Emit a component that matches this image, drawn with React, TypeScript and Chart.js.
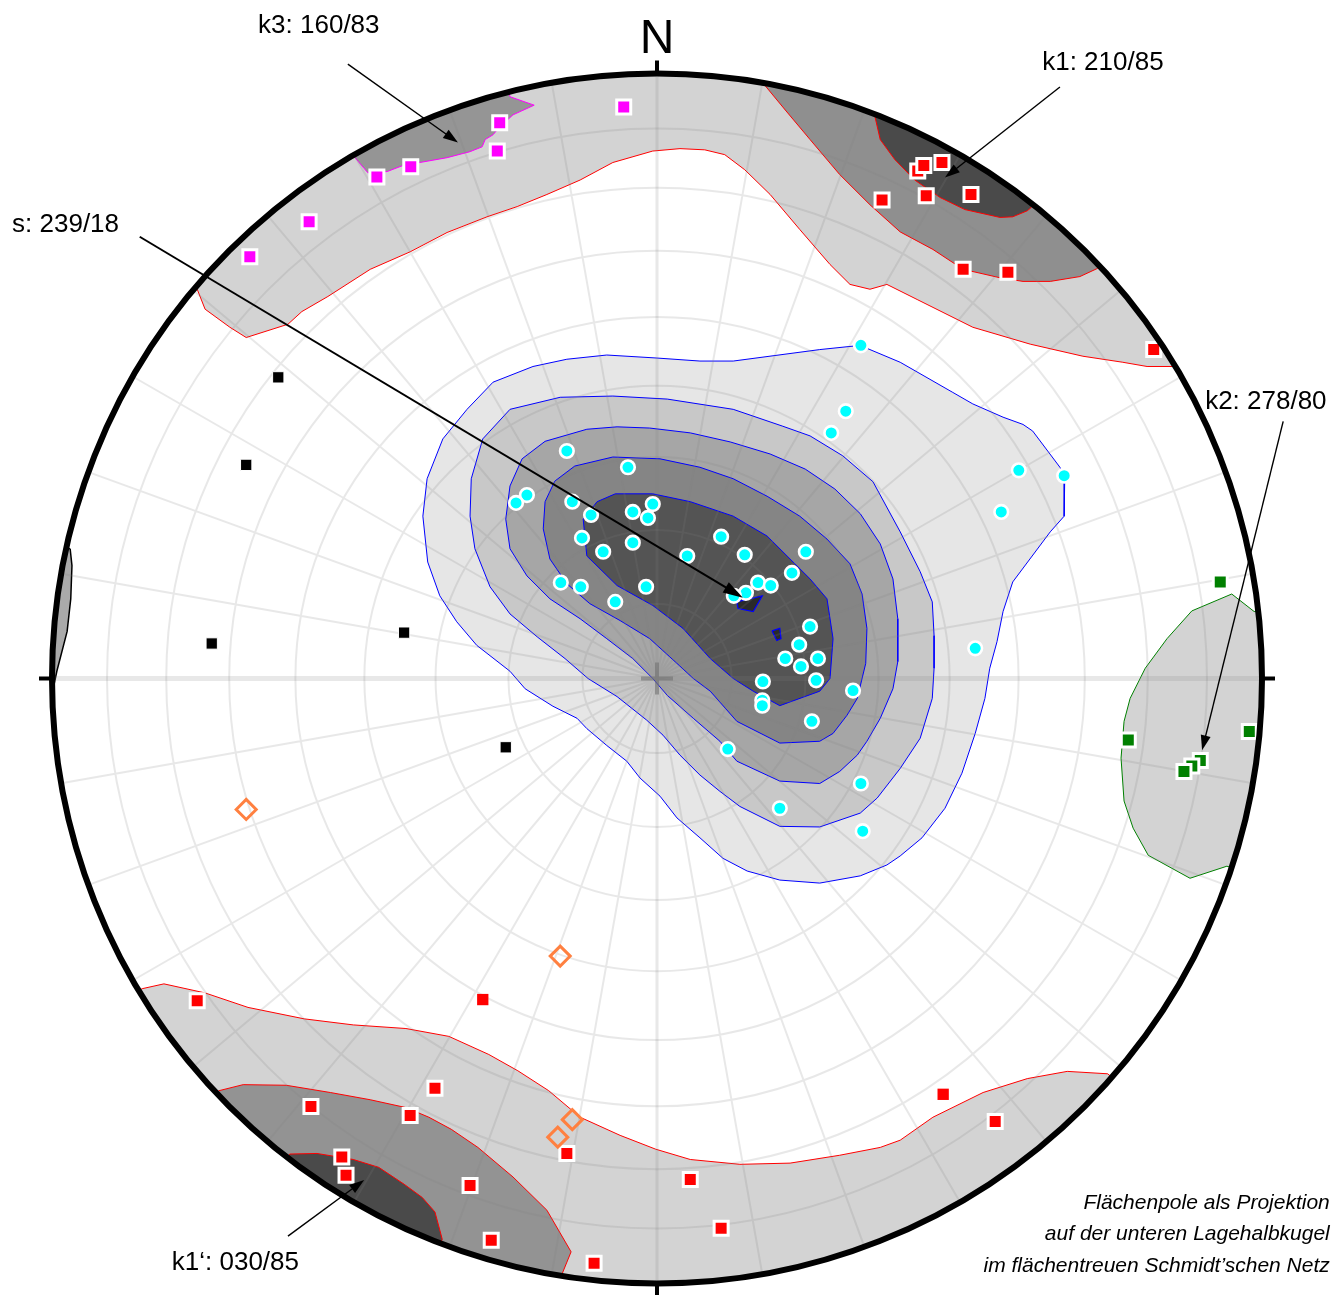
import React, { useEffect, useRef } from 'react';
import { Chart, registerables } from 'chart.js';

type P = [number, number];

// ---------------- DATA (projection plane of the Schmidt net, unit circle: x = east, y = north) ----------------

const cyanPoles: P[] = [
  [0.337, 0.552], [0.312, 0.443], [0.288, 0.407], [0.598, 0.345], [0.673, 0.336], [0.569, 0.276], [0.526, 0.050],
  [-0.149, 0.377], [-0.048, 0.350], [-0.215, 0.304], [-0.233, 0.291], [-0.140, 0.293], [-0.109, 0.271], [-0.040, 0.276],
  [-0.007, 0.289], [-0.015, 0.266], [-0.124, 0.233], [-0.089, 0.210], [-0.040, 0.225], [0.106, 0.235], [0.050, 0.203],
  [0.145, 0.205], [0.246, 0.210], [0.223, 0.175], [0.167, 0.159], [0.188, 0.154], [0.147, 0.142], [0.127, 0.137],
  [-0.159, 0.159], [-0.126, 0.152], [-0.018, 0.152], [-0.069, 0.127], [0.253, 0.086], [0.235, 0.056], [0.212, 0.033],
  [0.238, 0.020], [0.266, 0.033], [0.263, -0.003], [0.175, -0.005], [0.174, -0.036], [0.174, -0.045], [0.324, -0.020],
  [0.256, -0.071], [0.117, -0.117], [0.337, -0.174], [0.203, -0.215], [0.340, -0.253],
];

const redPoles: P[] = [
  [0.431, 0.841], [0.441, 0.850], [0.471, 0.855], [0.372, 0.793], [0.445, 0.800], [0.519, 0.802], [0.506, 0.678],
  [0.580, 0.673], [0.821, 0.545], [-0.760, -0.534], [-0.367, -0.679], [-0.572, -0.709], [-0.408, -0.724],
  [-0.521, -0.793], [-0.514, -0.823], [-0.309, -0.840], [-0.274, -0.931], [-0.149, -0.787], [-0.104, -0.969],
  [0.055, -0.830], [0.106, -0.911], [0.559, -0.734],
];

const redPolesPlain: P[] = [[-0.288, -0.532], [0.473, -0.689]];

const blackPoles: P[] = [[-0.626, 0.499], [-0.679, 0.354], [-0.736, 0.058], [-0.418, 0.076], [-0.250, -0.114]];

const magentaPoles: P[] = [
  [-0.055, 0.947], [-0.260, 0.921], [-0.264, 0.874], [-0.407, 0.848], [-0.463, 0.831], [-0.575, 0.757], [-0.673, 0.699],
];

const greenPoles: P[] = [[0.931, 0.160], [0.779, -0.102], [0.979, -0.088], [0.898, -0.136], [0.884, -0.145], [0.871, -0.154]];

const orangePoles: P[] = [[-0.679, -0.217], [-0.160, -0.460], [-0.140, -0.731], [-0.164, -0.760]];

// density contours (outline vertices; vertices beyond the primitive are cut off by the net circle)
const redUpperOuter: P[] = [
  [-0.760, 0.645], [-0.747, 0.612], [-0.706, 0.582], [-0.679, 0.565], [-0.610, 0.587], [-0.587, 0.608], [-0.544, 0.633],
  [-0.474, 0.678], [-0.408, 0.707], [-0.347, 0.739], [-0.281, 0.765], [-0.231, 0.782], [-0.182, 0.802], [-0.127, 0.826],
  [-0.073, 0.855], [-0.007, 0.874], [0.038, 0.878], [0.079, 0.876], [0.112, 0.868], [0.145, 0.843], [0.187, 0.802],
  [0.236, 0.744], [0.286, 0.686], [0.319, 0.653], [0.352, 0.645], [0.380, 0.653], [0.430, 0.628], [0.522, 0.582],
  [0.617, 0.554], [0.704, 0.534], [0.770, 0.524], [0.810, 0.517], [0.856, 0.517],
  [1.027, 0.620], [1.3, 1.3], [-1.3, 1.3], [-0.915, 0.776], [-0.760, 0.645],
];
const redUpperMid: P[] = [
  [0.179, 0.982], [0.212, 0.942], [0.253, 0.893], [0.302, 0.835], [0.352, 0.785], [0.402, 0.740], [0.456, 0.711],
  [0.506, 0.678], [0.567, 0.664], [0.605, 0.658], [0.650, 0.658], [0.699, 0.666], [0.727, 0.679],
  [0.87, 0.81], [1.3, 1.3], [0.2, 1.3], [0.215, 1.18], [0.179, 0.982],
];
const redUpperCore: P[] = [
  [0.360, 0.932], [0.369, 0.893], [0.393, 0.860], [0.426, 0.826], [0.468, 0.797], [0.509, 0.777], [0.567, 0.764],
  [0.588, 0.765], [0.612, 0.775], [0.618, 0.780],
  [0.74, 0.94], [0.43, 1.11], [0.360, 0.932],
];
const magentaCore: P[] = [
  [-0.499, 0.863], [-0.478, 0.838], [-0.446, 0.840], [-0.420, 0.850], [-0.392, 0.855], [-0.347, 0.863], [-0.309, 0.873],
  [-0.289, 0.881], [-0.284, 0.893], [-0.271, 0.901], [-0.260, 0.914], [-0.238, 0.934], [-0.203, 0.950], [-0.243, 0.964],
  [-0.29, 1.15], [-0.60, 1.04], [-0.499, 0.863],
];
const redLowerOuter: P[] = [
  [-0.851, -0.514], [-0.815, -0.506], [-0.747, -0.521], [-0.676, -0.545], [-0.583, -0.564], [-0.502, -0.574],
  [-0.415, -0.580], [-0.344, -0.593], [-0.278, -0.623], [-0.230, -0.650], [-0.179, -0.683], [-0.127, -0.727],
  [-0.061, -0.757], [-0.002, -0.780], [0.055, -0.797], [0.137, -0.805], [0.220, -0.803], [0.302, -0.790],
  [0.369, -0.777], [0.402, -0.765], [0.456, -0.727], [0.539, -0.686], [0.612, -0.663], [0.678, -0.651], [0.745, -0.655],
  [0.90, -0.79], [1.3, -1.3], [-1.3, -1.3], [-1.03, -0.62], [-0.851, -0.514],
];
const redLowerMid: P[] = [
  [-0.724, -0.683], [-0.684, -0.673], [-0.613, -0.674], [-0.540, -0.686], [-0.474, -0.698], [-0.415, -0.711],
  [-0.377, -0.727], [-0.340, -0.747], [-0.296, -0.777], [-0.238, -0.826], [-0.182, -0.881], [-0.142, -0.950],
  [-0.157, -0.987],
  [-0.19, -1.2], [-0.6, -1.2], [-0.87, -0.82], [-0.724, -0.683],
];
const redLowerCore: P[] = [
  [-0.607, -0.788], [-0.562, -0.787], [-0.502, -0.797], [-0.460, -0.810], [-0.418, -0.838], [-0.388, -0.860],
  [-0.367, -0.884], [-0.355, -0.929],
  [-0.43, -1.12], [-0.73, -0.95], [-0.607, -0.788],
];
const greenOuter: P[] = [
  [0.987, 0.111], [0.950, 0.140], [0.884, 0.112], [0.843, 0.066], [0.807, 0.017], [0.782, -0.033], [0.772, -0.071],
  [0.767, -0.132], [0.772, -0.203], [0.787, -0.248], [0.812, -0.293], [0.881, -0.331], [0.942, -0.311],
  [1.15, -0.38], [1.2, 0.13], [0.987, 0.111],
];
const blackSliver: P[] = [
  [-0.970, 0.215], [-0.967, 0.187], [-0.969, 0.132], [-0.975, 0.078], [-0.992, 0.012], [-0.998, -0.017],
  [-1.2, -0.02], [-1.2, 0.26], [-0.970, 0.215],
];
const cyanLevel1: P[] = [
  [0.336, 0.552], [0.352, 0.545], [0.402, 0.524], [0.489, 0.474], [0.522, 0.455], [0.572, 0.433], [0.605, 0.421],
  [0.621, 0.410], [0.666, 0.350], [0.674, 0.336], [0.673, 0.269], [0.650, 0.243], [0.588, 0.160], [0.572, 0.111],
  [0.562, 0.061], [0.550, 0.017], [0.542, -0.033], [0.526, -0.091], [0.504, -0.157], [0.476, -0.215], [0.438, -0.264],
  [0.402, -0.294], [0.380, -0.309], [0.336, -0.327], [0.269, -0.339], [0.203, -0.334], [0.149, -0.319], [0.109, -0.298],
  [0.071, -0.264], [0.033, -0.231], [0.005, -0.195], [-0.028, -0.165], [-0.050, -0.137], [-0.083, -0.111],
  [-0.116, -0.083], [-0.132, -0.066], [-0.172, -0.046], [-0.218, -0.017], [-0.243, 0.012], [-0.298, 0.055],
  [-0.331, 0.094], [-0.359, 0.137], [-0.379, 0.193], [-0.387, 0.269], [-0.380, 0.331], [-0.354, 0.397],
  [-0.314, 0.446], [-0.271, 0.491], [-0.205, 0.517], [-0.149, 0.529], [-0.083, 0.536], [0.000, 0.531],
  [0.071, 0.526], [0.126, 0.526], [0.269, 0.545], [0.336, 0.552],
];
const cyanLevel2: P[] = [
  [-0.073, 0.468], [0.017, 0.463], [0.126, 0.446], [0.208, 0.418], [0.253, 0.402], [0.307, 0.369], [0.357, 0.326],
  [0.402, 0.243], [0.435, 0.177], [0.455, 0.127], [0.458, 0.071], [0.458, 0.017], [0.455, -0.033], [0.435, -0.099],
  [0.402, -0.149], [0.364, -0.198], [0.336, -0.223], [0.269, -0.246], [0.203, -0.245], [0.137, -0.212],
  [0.104, -0.187], [0.071, -0.160], [0.038, -0.127], [0.010, -0.094], [-0.017, -0.069], [-0.066, -0.030],
  [-0.114, 0.000], [-0.152, 0.033], [-0.198, 0.069], [-0.243, 0.107], [-0.276, 0.152], [-0.301, 0.215],
  [-0.309, 0.269], [-0.307, 0.331], [-0.288, 0.397], [-0.243, 0.446], [-0.160, 0.466], [-0.073, 0.468],
];
const cyanLevel3: P[] = [
  [-0.066, 0.417], [-0.012, 0.415], [0.055, 0.407], [0.121, 0.392], [0.187, 0.372], [0.245, 0.347], [0.294, 0.314],
  [0.336, 0.273], [0.369, 0.223], [0.390, 0.165], [0.398, 0.099], [0.398, 0.028], [0.390, -0.017], [0.369, -0.066],
  [0.347, -0.104], [0.331, -0.127], [0.302, -0.154], [0.269, -0.174], [0.203, -0.170], [0.132, -0.137],
  [0.104, -0.104], [0.060, -0.066], [0.017, -0.028], [-0.007, 0.000], [-0.040, 0.033], [-0.083, 0.066],
  [-0.127, 0.099], [-0.177, 0.132], [-0.215, 0.170], [-0.243, 0.215], [-0.250, 0.264], [-0.243, 0.319],
  [-0.223, 0.364], [-0.185, 0.393], [-0.116, 0.413], [-0.066, 0.417],
];
const cyanLevel4: P[] = [
  [-0.073, 0.367], [0.005, 0.364], [0.071, 0.350], [0.126, 0.331], [0.182, 0.302], [0.236, 0.269], [0.281, 0.231],
  [0.319, 0.190], [0.339, 0.140], [0.347, 0.083], [0.345, 0.025], [0.331, -0.033], [0.314, -0.061], [0.291, -0.091],
  [0.269, -0.104], [0.203, -0.107], [0.132, -0.071], [0.088, -0.021], [0.060, 0.000], [0.033, 0.025],
  [-0.012, 0.066], [-0.061, 0.096], [-0.111, 0.124], [-0.149, 0.157], [-0.177, 0.198], [-0.188, 0.248],
  [-0.185, 0.293], [-0.169, 0.327], [-0.136, 0.352], [-0.073, 0.367],
];
const cyanLevel5: P[] = [
  [-0.069, 0.306], [-0.007, 0.306], [0.055, 0.293], [0.126, 0.269], [0.182, 0.236], [0.215, 0.203], [0.253, 0.165],
  [0.281, 0.132], [0.291, 0.066], [0.286, 0.000], [0.269, -0.021], [0.203, -0.045], [0.159, -0.021], [0.126, 0.000],
  [0.088, 0.033], [0.043, 0.083], [-0.007, 0.121], [-0.066, 0.154], [-0.116, 0.203], [-0.122, 0.264],
  [-0.099, 0.293], [-0.069, 0.306],
];
const cyanLevel6a: P[] = [[0.132, 0.127], [0.174, 0.137], [0.159, 0.111], [0.134, 0.116], [0.132, 0.127]];
const cyanLevel6b: P[] = [[0.190, 0.079], [0.203, 0.083], [0.205, 0.066], [0.198, 0.063], [0.190, 0.079]];

// net grid: small circles (angular distance from centre, deg) and radial azimuth step
const NET_CIRCLES = [10, 20, 30, 40, 50, 60, 70, 80];
const NET_AZIMUTH_STEP = 10;
const CARDINAL_AZIMUTHS = [0, 90, 180, 270];

// labels: text, anchor, arrow start, arrow tip (all in net coordinates)
const LABEL_TEXTS = ['s: 239/18', 'k3: 160/83', 'k1: 210/85', 'k2: 278/80', 'k1\u2018: 030/85'];
const NOTE_LINES = ['Fl\u00e4chenpole als Projektion', 'auf der unteren Lagehalbkugel', 'im fl\u00e4chentreuen Schmidt\u2019schen Netz'];

// ---------------- STYLING / LAYOUT ----------------

const FONT = '"Liberation Sans", Arial, Helvetica, sans-serif';

const labelLayout = [
  { at: [-1.066, 0.740], align: 'left', from: [-0.855, 0.732], to: [0.142, 0.134], lw: 2, head: 20, hw: 6 },
  { at: [-0.559, 1.069], align: 'center', from: [-0.511, 1.018], to: [-0.329, 0.888], lw: 1.4, head: 15, hw: 5 },
  { at: [0.737, 1.008], align: 'center', from: [0.666, 0.980], to: [0.476, 0.830], lw: 1.4, head: 15, hw: 5 },
  { at: [0.906, 0.446], align: 'left', from: [1.035, 0.426], to: [0.901, -0.119], lw: 1.4, head: 15, hw: 5 },
  { at: [-0.802, -0.980], align: 'left', from: [-0.610, -0.924], to: [-0.484, -0.831], lw: 1.4, head: 15, hw: 5 },
];

const contourLayers: { data: P[]; fill: string; stroke: string; width: number }[] = [
  { data: redUpperOuter, fill: '#d3d3d3', stroke: '#ff0000', width: 1 },
  { data: redUpperMid, fill: '#8f8f8f', stroke: '#ff0000', width: 1 },
  { data: redUpperCore, fill: '#4a4a4a', stroke: '#ff0000', width: 1 },
  { data: magentaCore, fill: '#959595', stroke: '#ff00ff', width: 1 },
  { data: redLowerOuter, fill: '#d3d3d3', stroke: '#ff0000', width: 1 },
  { data: redLowerMid, fill: '#939393', stroke: '#ff0000', width: 1 },
  { data: redLowerCore, fill: '#4a4a4a', stroke: '#ff0000', width: 1 },
  { data: greenOuter, fill: '#d3d3d3', stroke: '#008000', width: 1 },
  { data: blackSliver, fill: '#aaaaaa', stroke: '#000000', width: 1.5 },
  { data: cyanLevel1, fill: '#e6e6e6', stroke: '#0000ff', width: 1 },
  { data: cyanLevel2, fill: '#c8c8c8', stroke: '#0000ff', width: 1 },
  { data: cyanLevel3, fill: '#a6a6a6', stroke: '#0000ff', width: 1 },
  { data: cyanLevel4, fill: '#858585', stroke: '#0000ff', width: 1 },
  { data: cyanLevel5, fill: '#545454', stroke: '#0000ff', width: 1 },
  { data: cyanLevel6a, fill: '#2a2a2a', stroke: '#0000ff', width: 1.2 },
  { data: cyanLevel6b, fill: '#2a2a2a', stroke: '#0000ff', width: 1.2 },
];

const poleSeries: { data: P[]; style: string; color: string; border: string; radius: number; bw: number }[] = [
  { data: orangePoles, style: 'rectRot', color: 'rgba(0,0,0,0)', border: '#ff8040', radius: 10, bw: 3 },
  { data: cyanPoles, style: 'circle', color: '#00ffff', border: '#ffffff', radius: 6.8, bw: 2.6 },
  { data: redPoles, style: 'rect', color: '#ff0000', border: '#ffffff', radius: 9.9, bw: 3 },
  { data: redPolesPlain, style: 'rect', color: '#ff0000', border: '#ffffff', radius: 8, bw: 0 },
  { data: magentaPoles, style: 'rect', color: '#ff00ff', border: '#ffffff', radius: 9.9, bw: 3 },
  { data: greenPoles, style: 'rect', color: '#008000', border: '#ffffff', radius: 9.9, bw: 3 },
  { data: blackPoles, style: 'rect', color: '#000000', border: '#ffffff', radius: 8, bw: 1 },
];

// ---------------- DRAWING HELPERS ----------------

function geom(chart: any) {
  const xs = chart.scales.x;
  const ys = chart.scales.y;
  const px = (v: number) => xs.getPixelForValue(v);
  const py = (v: number) => ys.getPixelForValue(v);
  const cx = px(0);
  const cy = py(0);
  return { px, py, cx, cy, R: px(1) - cx };
}

const eqAreaRadius = (deg: number) => Math.SQRT2 * Math.sin((deg * Math.PI) / 360);

function drawGrid(chart: any) {
  const { ctx } = chart;
  const { px, py, cx, cy, R } = geom(chart);
  ctx.save();
  ctx.strokeStyle = 'rgba(128,128,128,0.18)';
  ctx.lineWidth = 2;
  ctx.beginPath();
  NET_CIRCLES.forEach((c) => {
    const r = eqAreaRadius(c) * R;
    ctx.moveTo(cx + r, cy);
    ctx.arc(cx, cy, r, 0, Math.PI * 2);
  });
  for (let az = 0; az < 360; az += NET_AZIMUTH_STEP) {
    if (az % 90 === 0) continue;
    const a = (az * Math.PI) / 180;
    ctx.moveTo(cx, cy);
    ctx.lineTo(px(Math.sin(a)), py(Math.cos(a)));
  }
  ctx.stroke();
  // N-S axis
  ctx.lineWidth = 3;
  ctx.beginPath();
  ctx.moveTo(px(0), py(1));
  ctx.lineTo(px(0), py(-1));
  ctx.stroke();
  // E-W axis
  ctx.lineWidth = 5;
  ctx.beginPath();
  ctx.moveTo(px(-1), py(0));
  ctx.lineTo(px(1), py(0));
  ctx.stroke();
  // centre cross
  ctx.strokeStyle = 'rgba(110,110,110,0.55)';
  ctx.lineWidth = 4;
  ctx.beginPath();
  ctx.moveTo(cx - 16, cy);
  ctx.lineTo(cx + 16, cy);
  ctx.moveTo(cx, cy - 16);
  ctx.lineTo(cx, cy + 16);
  ctx.stroke();
  ctx.restore();
}

function arrow(ctx: CanvasRenderingContext2D, x1: number, y1: number, x2: number, y2: number, lw: number, head: number, hw: number) {
  const ang = Math.atan2(y2 - y1, x2 - x1);
  const c = Math.cos(ang);
  const s = Math.sin(ang);
  const bx = x2 - head * c;
  const by = y2 - head * s;
  ctx.lineWidth = lw;
  ctx.beginPath();
  ctx.moveTo(x1, y1);
  ctx.lineTo(bx + 2 * c, by + 2 * s);
  ctx.stroke();
  ctx.beginPath();
  ctx.moveTo(x2, y2);
  ctx.lineTo(bx - hw * s, by + hw * c);
  ctx.lineTo(bx + hw * s, by - hw * c);
  ctx.closePath();
  ctx.fill();
}

function drawFrame(chart: any) {
  const { ctx } = chart;
  const { px, py, cx, cy, R } = geom(chart);
  ctx.save();
  // primitive circle
  ctx.strokeStyle = '#000';
  ctx.lineWidth = 6;
  ctx.beginPath();
  ctx.arc(cx, cy, R, 0, Math.PI * 2);
  ctx.stroke();
  // cardinal ticks
  ctx.lineWidth = 4;
  CARDINAL_AZIMUTHS.forEach((az) => {
    const a = (az * Math.PI) / 180;
    ctx.beginPath();
    ctx.moveTo(cx + Math.sin(a) * (R - 2), cy - Math.cos(a) * (R - 2));
    ctx.lineTo(cx + Math.sin(a) * (R + 13), cy - Math.cos(a) * (R + 13));
    ctx.stroke();
  });
  // N
  ctx.fillStyle = '#000';
  ctx.font = `48px ${FONT}`;
  ctx.textAlign = 'center';
  ctx.textBaseline = 'alphabetic';
  ctx.fillText('N', px(0), py(1.036));
  // labels and arrows
  ctx.font = `26px ${FONT}`;
  ctx.strokeStyle = '#000';
  labelLayout.forEach((l, i) => {
    ctx.textAlign = l.align as CanvasTextAlign;
    ctx.fillText(LABEL_TEXTS[i], px(l.at[0]), py(l.at[1]));
    arrow(ctx, px(l.from[0]), py(l.from[1]), px(l.to[0]), py(l.to[1]), l.lw, l.head, l.hw);
  });
  // note
  ctx.font = `italic 21px ${FONT}`;
  ctx.textAlign = 'right';
  const noteY = [-0.879, -0.931, -0.984];
  NOTE_LINES.forEach((t, i) => ctx.fillText(t, px(1.112), py(noteY[i])));
  ctx.restore();
}

const netPlugin = {
  id: 'schmidtNet',
  beforeDatasetsDraw(chart: any) {
    chart.$netGridDone = false;
  },
  beforeDatasetDraw(chart: any, args: any) {
    const ds = chart.data.datasets[args.index];
    if (ds.netContour) {
      const { cx, cy, R } = geom(chart);
      const ctx = chart.ctx;
      ctx.save();
      ctx.beginPath();
      ctx.arc(cx, cy, R, 0, Math.PI * 2);
      ctx.clip();
    } else if (!chart.$netGridDone) {
      drawGrid(chart);
      chart.$netGridDone = true;
    }
  },
  afterDatasetDraw(chart: any, args: any) {
    const ds = chart.data.datasets[args.index];
    if (ds.netContour) chart.ctx.restore();
  },
  afterDatasetsDraw(chart: any) {
    if (!chart.$netGridDone) drawGrid(chart);
    drawFrame(chart);
  },
};

Chart.register(netPlugin as any);
Chart.register(...registerables);

const toXY = (arr: P[]) => arr.map(([x, y]) => ({ x, y }));

export default function App() {
  const canvasRef = useRef<HTMLCanvasElement | null>(null);

  useEffect(() => {
    if (!canvasRef.current) return;
    const datasets: any[] = [];
    poleSeries.forEach((s) => {
      datasets.push({
        data: toXY(s.data),
        showLine: false,
        pointStyle: s.style,
        pointRadius: s.radius,
        pointBackgroundColor: s.color,
        pointBorderColor: s.border,
        pointBorderWidth: s.bw,
        order: 0,
        clip: false,
      });
    });
    contourLayers.forEach((c, i) => {
      datasets.push({
        data: toXY(c.data),
        showLine: true,
        fill: 'shape',
        backgroundColor: c.fill,
        borderColor: c.stroke,
        borderWidth: c.width,
        pointRadius: 0,
        tension: 0,
        order: 100 - i,
        clip: false,
        netContour: true,
      });
    });

    const chart = new Chart(canvasRef.current, {
      type: 'scatter',
      data: { datasets },
      options: {
        responsive: false,
        animation: false,
        devicePixelRatio: 1,
        events: [],
        layout: { padding: { left: 52, right: 71, top: 75, bottom: 10 } },
        plugins: { legend: { display: false }, tooltip: { enabled: false }, title: { display: false } },
        scales: {
          x: { type: 'linear', min: -1, max: 1, display: false },
          y: { type: 'linear', min: -1, max: 1, display: false },
        },
      } as any,
    });
    return () => chart.destroy();
  }, []);

  return (
    <div style={{ position: 'absolute', left: 0, top: 0, width: 1333, height: 1295, background: '#fff' }}>
      <canvas ref={canvasRef} width={1333} height={1295} style={{ display: 'block' }} />
    </div>
  );
}
